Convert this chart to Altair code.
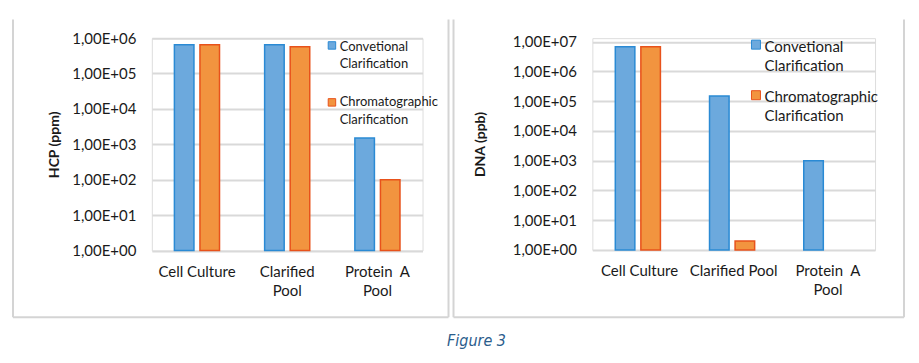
import altair as alt
import pandas as pd

# ---------------- data ----------------
categories = ["Cell Culture", "Clarified Pool", "Protein A Pool"]
series = ["Convetional Clarification", "Chromatographic Clarification"]
series_lines = [["Convetional", "Clarification"], ["Chromatographic", "Clarification"]]

hcp_conventional = [6.5e5, 6.5e5, 1.5e3]
hcp_chromatographic = [6.5e5, 5.7e5, 1.0e2]
dna_conventional = [6.8e6, 1.5e5, 1.0e3]
dna_chromatographic = [6.8e6, 2.0, None]

hcp_ticks = [1, 10, 100, 1e3, 1e4, 1e5, 1e6]
dna_ticks = [1, 10, 100, 1e3, 1e4, 1e5, 1e6, 1e7]

hcp_cat_labels = [["Cell Culture"], ["Clarified", "Pool"], ["Protein \u00a0A", "Pool"]]
dna_cat_labels = [["Cell Culture"], ["Clarified Pool"], ["Protein \u00a0A", "Pool"]]

caption = "Figure 3"

FILLS = ["#6CA9DD", "#F2943F"]
STROKES = ["#2A8AD4", "#E8521B"]
FONT = "Lato"
TEXT = "#1a1a1a"
GRID = "#d9d9d9"
BORDER = "#d4d4d4"


def frame(values_a, values_b):
    rows = []
    for c, a, b in zip(categories, values_a, values_b):
        rows.append({"category": c, "series": series[0], "value": a})
        rows.append({"category": c, "series": series[1], "value": b})
    return pd.DataFrame(rows)


def label_expr(lines):
    expr = "datum.label"
    for cat, ls in zip(categories, lines):
        arr = "[" + ",".join("'" + s + "'" for s in ls) + "]"
        expr = f"datum.label == '{cat}' ? {arr} : ({expr})"
    return expr


def panel(df, ytitle, ticks, ymax, width, height, pad_inner, cat_lines,
          title_pad, legend, border):
    base = alt.Chart(df).encode(
        x=alt.X("category:N", sort=categories, title=None,
                scale=alt.Scale(paddingInner=pad_inner, paddingOuter=pad_inner / 2),
                axis=alt.Axis(labelAngle=0, labelExpr=label_expr(cat_lines),
                              labelFont=FONT, labelFontSize=15, labelColor=TEXT,
                              labelLineHeight=19, labelPadding=14, labelBaseline="top",
                              ticks=False, domain=False, grid=False)),
        xOffset=alt.XOffset("series:N", sort=series,
                            scale=alt.Scale(paddingInner=0.235, paddingOuter=0)),
        y=alt.Y("value:Q", title=ytitle,
                scale=alt.Scale(type="log", domain=[1, ymax], nice=False),
                axis=alt.Axis(values=ticks,
                              labelExpr="'1,00E+0' + round(log(datum.value)/LN10)",
                              labelFont=FONT, labelFontSize=15, labelColor=TEXT,
                              labelPadding=16, ticks=False, domain=False,
                              grid=True, gridColor=GRID, gridWidth=2,
                              titleFont=FONT, titleFontSize=14, titleFontWeight="bold",
                              titleColor=TEXT, titlePadding=title_pad)),
        y2=alt.datum(1),
        color=alt.Color("series:N", sort=series,
                        scale=alt.Scale(domain=series, range=FILLS), legend=None),
        stroke=alt.Stroke("series:N", sort=series,
                          scale=alt.Scale(domain=series, range=STROKES), legend=None),
    )
    bars = base.mark_bar(strokeWidth=1.5, opacity=1)

    one = alt.Chart(pd.DataFrame({"k": [0]}))
    layers = [bars]
    # legend (manual)
    sq_x, sq_ys, sq_size, tx, t_ys, fs, lh = legend
    for i in range(2):
        layers.append(one.mark_square(size=sq_size, fill=FILLS[i], stroke=STROKES[i],
                                      strokeWidth=1, opacity=1).encode(
            x=alt.value(sq_x), y=alt.value(sq_ys[i])))
        layers.append(one.mark_text(text=series_lines[i], align="left",
                                    baseline="alphabetic", font=FONT, fontSize=fs,
                                    lineHeight=lh, color=TEXT).encode(
            x=alt.value(tx), y=alt.value(t_ys[i])))
    # panel border (left, right, bottom)
    bl, br, bt, bb = border
    layers.append(one.mark_rule(color=BORDER, strokeWidth=2).encode(
        x=alt.value(bl), y=alt.value(bt), y2=alt.value(bb)))
    layers.append(one.mark_rule(color=BORDER, strokeWidth=2).encode(
        x=alt.value(br), y=alt.value(bt), y2=alt.value(bb)))
    layers.append(one.mark_rule(color=BORDER, strokeWidth=2).encode(
        x=alt.value(bl), x2=alt.value(br), y=alt.value(bb)))
    return alt.layer(*layers).properties(width=width, height=height)


left = panel(frame(hcp_conventional, hcp_chromatographic), "HCP (ppm)", hcp_ticks,
             1e6, 271, 212.6, 0.5, hcp_cat_labels, 10,
             (180.3, [7.3, 64.3], 56, 188, [12.6, 68.3], 13, 17.5),
             (-139, 297, -18.7, 279.3))

right = panel(frame(dna_conventional, dna_chromatographic), "DNA (ppb)", dna_ticks,
              10 ** (7 + 3.6 / 29.77), 283, 212, 0.487, dna_cat_labels, 25,
              (163.8, [6.5, 57.1], 81, 172.3, [13.6, 64.3], 15, 19),
              (-139, 312, -18.7, 279.3))

chart = alt.hconcat(left, right, spacing=1).properties(
    padding={"left": 3, "top": 9, "right": 5, "bottom": 5},
    title=alt.TitleParams(caption, orient="bottom", anchor="middle", dx=18, offset=14,
                          font="Liberation Sans Narrow, DejaVu Sans Condensed, sans-serif",
                          fontSize=16, fontStyle="italic",
                          fontWeight="normal", color="#2B5D8C"),
).configure_view(stroke=None).configure(background="white")

chart.save("out.html", embed_options={"renderer": "svg", "actions": False})
